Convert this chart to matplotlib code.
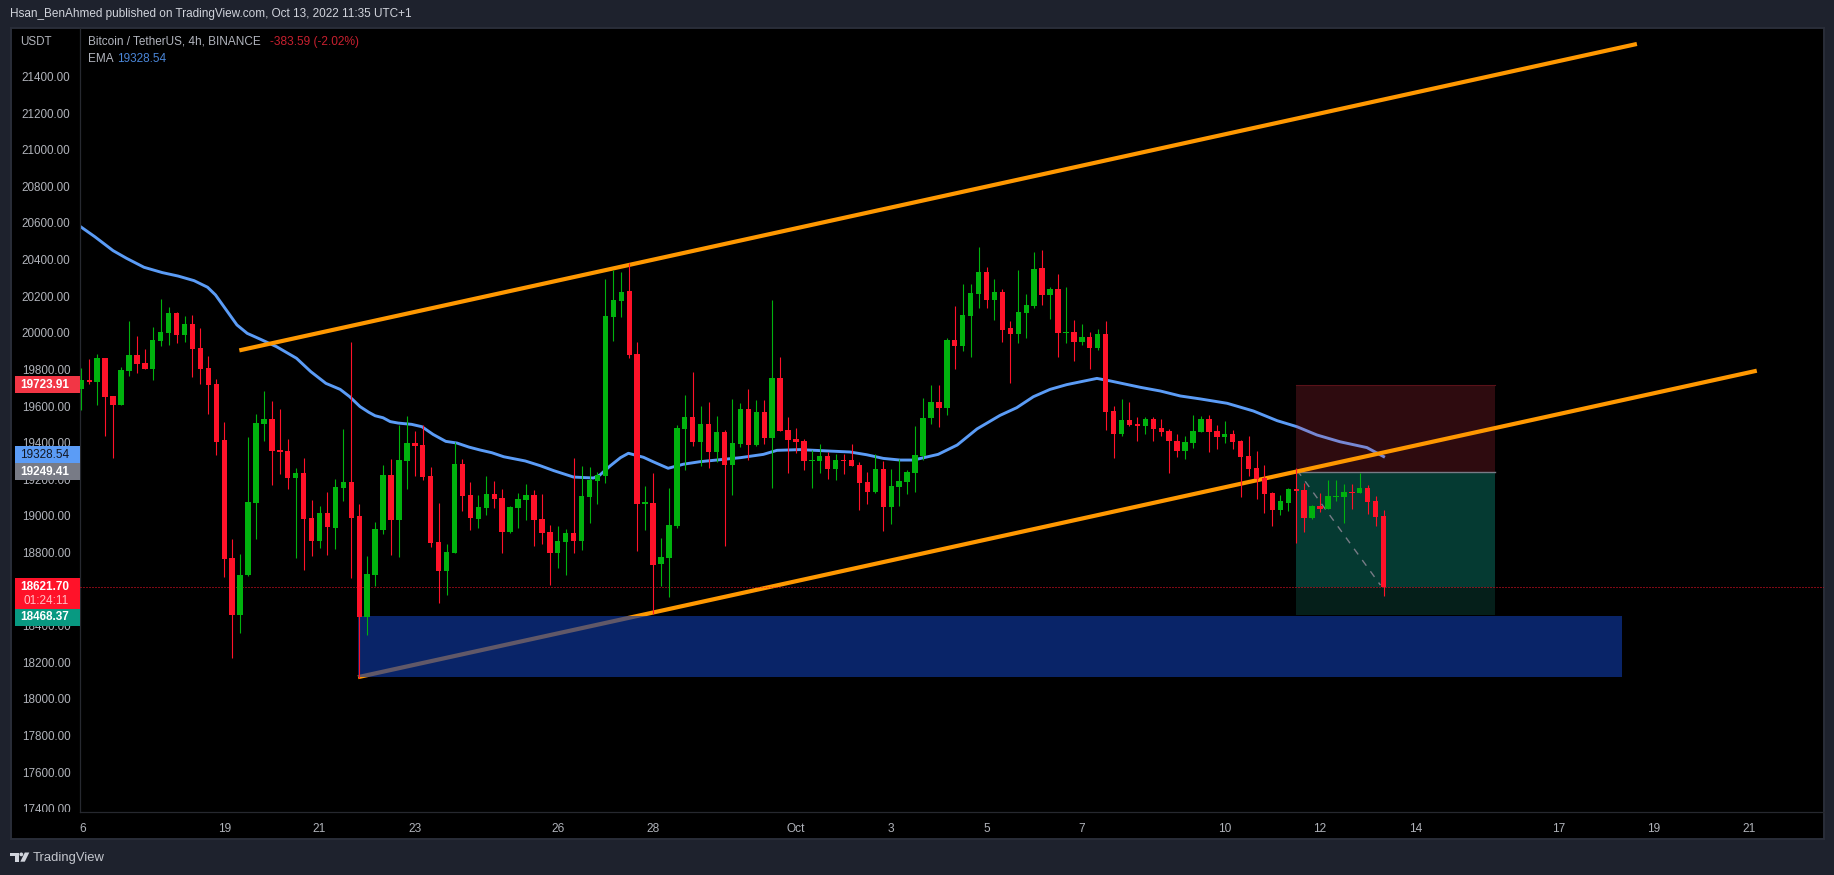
import matplotlib
matplotlib.use("Agg")
import matplotlib.pyplot as plt
from matplotlib.patches import Rectangle, Polygon, Circle

# BTC/USDT 4h candles
opens = [19701, 19750, 19739, 19870, 19663, 19614, 19799, 19887, 19843, 19810,
         19963, 20007, 20116, 19996, 20056, 19925, 19816, 19728, 19422, 18778,
         18466, 18685, 19078, 19510, 19537, 19368, 19362, 19215, 19242, 18996,
         18871, 19024, 18942, 19160, 19193, 19007, 18456, 18685, 18931, 19231,
         18985, 19308, 19406, 19395, 19226, 18865, 18707, 18805, 19291, 19122,
         18991, 19051, 19128, 19106, 18920, 19051, 19095, 19122, 18991, 18920,
         18805, 18865, 18914, 18871, 19111, 19199, 19226, 20094, 20182, 20236,
         19892, 19073, 19078, 18745, 18778, 18953, 19483, 19548, 19412, 19510,
         19357, 19466, 19286, 19401, 19592, 19395, 19576, 19433, 19761, 19477,
         19428, 19417, 19308, 19308, 19335, 19264, 19313, 19313, 19286, 19193,
         19139, 19264, 19057, 19166, 19193, 19242, 19335, 19543, 19630, 19597,
         19969, 19936, 20100, 20220, 20340, 20187, 20231, 20034, 20002, 20116,
         20155, 20362, 20215, 20247, 20007, 20013, 19958, 19985, 19925, 20002,
         19581, 19455, 19532, 19510, 19499, 19537, 19488, 19472, 19417, 19362,
         19406, 19466, 19537, 19472, 19439, 19455, 19417, 19335, 19270, 19215,
         19133, 19040, 19078, 19155, 19149, 18996, 19062, 19046, 19111, 19111,
         19139, 19133, 19160, 19089, 19007]
closes = [19750, 19739, 19870, 19657, 19614, 19805, 19887, 19838, 19810, 19969,
          20012, 20116, 19996, 20056, 19920, 19810, 19723, 19412, 18772, 18466,
          18685, 19084, 19515, 19537, 19362, 19357, 19215, 19242, 18991, 18871,
          19024, 18947, 19166, 19193, 18996, 18456, 18690, 18936, 19231, 18985,
          19313, 19406, 19390, 19220, 18860, 18707, 18811, 19291, 19117, 18996,
          19057, 19128, 19100, 18920, 19057, 19100, 19122, 18985, 18914, 18805,
          18871, 18914, 18871, 19117, 19204, 19231, 20100, 20187, 20231, 19887,
          19073, 19084, 18740, 18783, 18958, 19488, 19548, 19412, 19510, 19357,
          19466, 19286, 19406, 19592, 19395, 19576, 19433, 19761, 19472, 19423,
          19412, 19308, 19313, 19335, 19264, 19313, 19308, 19281, 19188, 19139,
          19264, 19057, 19171, 19199, 19248, 19341, 19543, 19630, 19597, 19969,
          19936, 20105, 20226, 20340, 20187, 20231, 20023, 20002, 20122, 20160,
          20357, 20215, 20247, 20007, 20013, 19958, 19985, 19925, 20002, 19576,
          19455, 19532, 19504, 19499, 19537, 19483, 19466, 19417, 19362, 19412,
          19472, 19537, 19466, 19439, 19455, 19412, 19330, 19264, 19210, 19128,
          19040, 19089, 19155, 19144, 18996, 19062, 19046, 19117, 19117, 19139,
          19133, 19160, 19084, 19002, 18620]
highs = [19816, 19865, 19892, 19870, 19663, 19821, 20072, 19991, 19920, 20040,
         20193, 20149, 20122, 20100, 20105, 20034, 19881, 19756, 19521, 18882,
         18800, 19439, 19564, 19690, 19636, 19592, 19428, 19270, 19324, 19095,
         19062, 19138, 19209, 19483, 19958, 19073, 18789, 18975, 19286, 19319,
         19504, 19554, 19472, 19504, 19275, 19078, 18854, 19412, 19319, 19193,
         19122, 19226, 19199, 19155, 19062, 19133, 19182, 19149, 19128, 18958,
         18953, 18936, 19324, 19280, 19275, 19248, 20302, 20351, 20340, 20389,
         19958, 19171, 19242, 18887, 19160, 19504, 19668, 19794, 19608, 19630,
         19554, 19477, 19647, 19625, 19701, 19641, 19641, 20187, 19876, 19548,
         19488, 19428, 19368, 19401, 19357, 19346, 19346, 19401, 19302, 19248,
         19346, 19308, 19264, 19319, 19259, 19499, 19652, 19723, 19723, 19980,
         20155, 20275, 20275, 20477, 20368, 20302, 20247, 20073, 20351, 20220,
         20450, 20460, 20258, 20329, 20258, 20078, 20056, 20013, 20029, 20073,
         19608, 19647, 19630, 19548, 19548, 19548, 19537, 19483, 19455, 19444,
         19559, 19554, 19559, 19504, 19526, 19477, 19423, 19444, 19362, 19286,
         19139, 19122, 19160, 19270, 19188, 19067, 19133, 19204, 19204, 19182,
         19182, 19242, 19177, 19117, 19040]
lows = [19586, 19728, 19614, 19444, 19324, 19614, 19772, 19788, 19810, 19750,
        19936, 19941, 19952, 19958, 19767, 19728, 19564, 19340, 18674, 18233,
        18368, 18680, 18882, 19417, 19177, 19237, 19155, 18778, 18712, 18789,
        18832, 18794, 18827, 19089, 18669, 18122, 18357, 18625, 18909, 18794,
        18783, 19155, 19226, 19204, 18838, 18532, 18576, 18805, 19035, 18931,
        18942, 19013, 19051, 18805, 18914, 18942, 18985, 18843, 18854, 18630,
        18723, 18685, 18805, 18822, 18969, 19073, 19188, 19963, 20094, 19870,
        18816, 18931, 18472, 18625, 18565, 18942, 19259, 19390, 19281, 19270,
        19302, 18844, 19122, 19384, 19313, 19390, 19401, 19160, 19472, 19242,
        19352, 19259, 19160, 19242, 19210, 19204, 19237, 19281, 19040, 19073,
        19133, 18925, 18964, 19062, 19128, 19139, 19313, 19510, 19494, 19559,
        19810, 19909, 19876, 20144, 20144, 20078, 19958, 19734, 19952, 19980,
        20144, 20160, 20084, 19876, 19952, 19854, 19942, 19810, 19914, 19477,
        19324, 19444, 19499, 19417, 19455, 19417, 19444, 19242, 19330, 19319,
        19379, 19466, 19357, 19373, 19406, 19373, 19111, 19226, 19100, 19024,
        18953, 19013, 19035, 18860, 18920, 18991, 19029, 19046, 19089, 18969,
        19046, 19133, 19018, 18953, 18570]

# EMA, sampled along the curve (bar number, price)
ema_bar = [-0.2, 1.7, 4, 5.7, 7.9, 10.2, 12.2, 14.2, 15.9, 16.9, 18.4, 19.6, 20.9, 22.6, 24.6, 27.1,
           28.9, 30.8, 32.6, 33.8, 35.1, 36.2, 37, 38, 38.9, 39.9, 41.6, 42.9, 44.3, 45.9, 47.3,
           48.8, 50.2, 51.7, 53.2, 55.9, 57.8, 59.5, 62, 64.5, 65.3, 66.6, 67.9, 68.9, 70.8, 72,
           73.9, 75.8, 77.9, 80, 83, 85.9, 87.6, 90.5, 94.3, 96.8, 98.9, 101, 103.1, 104.8, 107.9,
           110.3, 112.8, 115.7, 117.8, 119.9, 122, 124.1, 127.9, 129.6, 133.4, 135.9, 138.4, 140.9,
           144.3, 147.6, 150.6, 153.1, 155.6, 158.5, 161.9, 164]
ema_val = [20591, 20533, 20457, 20415, 20366, 20337, 20318, 20293, 20257, 20215, 20124, 20051, 20005,
           19972, 19932, 19869, 19796, 19732, 19699, 19659, 19605, 19574, 19555, 19544, 19523, 19515,
           19508, 19495, 19453, 19415, 19406, 19384, 19368, 19353, 19331, 19308, 19282, 19255, 19220,
           19215, 19231, 19281, 19326, 19350, 19328, 19304, 19268, 19290, 19304, 19313, 19326, 19344,
           19366, 19370, 19362, 19357, 19342, 19322, 19313, 19313, 19344, 19395, 19483, 19557, 19599,
           19659, 19699, 19725, 19759, 19745, 19710, 19690, 19663, 19647, 19623, 19581, 19528, 19495,
           19450, 19413, 19381, 19332]

# drawings on the chart
upper_trend_bar = [19.9, 195.9]
upper_trend_val = [19912, 21586]
lower_trend_bar = [34.85, 211]
lower_trend_val = [18127, 19801]
zone_bar = [34.85, 194]
zone_val = [18128, 18461]
pos_bar = [153, 178]
stop_price = 19723.91
entry_price = 19249.41
target_price = 18468.37
last_price = 18621.70
path_bar = [153.1, 163.6]
path_val = [19258, 18630]

price_ticks = [21400, 21200, 21000, 20800, 20600, 20400, 20200, 20000, 19800, 19600,
               19400, 19200, 19000, 18800, 18400, 18200, 18000, 17800, 17600, 17400]
date_bars = [0.2, 18, 30, 42, 60, 72, 90, 102, 114, 126, 144, 156, 168, 186, 198, 210]
date_labels = ["6", "19", "21", "23", "26", "28", "Oct", "3", "5", "7", "10", "12", "14", "17", "19", "21"]

UP = "#00b20e"
DOWN = "#ff1229"
ORANGE = "#ff9800"
EMA_BLUE = "#5b9cf6"
GREY = "#787b86"
PANEL_LINE = "#2a2e39"
AXIS_TEXT = "#b0b3ba"

plt.rcParams["font.family"] = ["Liberation Sans", "DejaVu Sans"]

W, H = 1834, 875
fig = plt.figure(figsize=(W / 100, H / 100), dpi=100, facecolor="#1e222d")

# page furniture in pixel units
bg = fig.add_axes([0, 0, 1, 1], zorder=0)
bg.set_xlim(0, W)
bg.set_ylim(H, 0)
bg.axis("off")
L, R, T, B, AX_X, AX_Y = 10.5, 1823.5, 27.5, 839, 79.5, 812.3
bg.add_patch(Rectangle((L, T), R - L, B - T, fc="black", ec=PANEL_LINE, lw=1.4))
bg.text(9.5, 14.5, "Hsan_BenAhmed published on TradingView.com, Oct 13, 2022 11:35 UTC+1",
        color="#d1d4dc", fontsize=8.5, va="center")
bg.add_patch(Polygon([(10, 852.5), (18.5, 852.5), (18.5, 861.7), (14.5, 861.7), (14.5, 856), (10, 856)],
                     fc="#d1d4dc", ec="none"))
bg.add_patch(Circle((21.3, 854.4), 1.9, fc="#d1d4dc", ec="none"))
bg.add_patch(Polygon([(24.8, 852.5), (29.3, 852.5), (24.8, 861.7), (20.3, 861.7)], fc="#d1d4dc", ec="none"))
bg.text(33, 857.5, "TradingView", color="#c4c7ce", fontsize=9.4, va="center")

pos = lambda x0, y0, x1, y1: [x0 / W, 1 - y1 / H, (x1 - x0) / W, (y1 - y0) / H]
ylim = (17388.7, 21675.9)

# chart pane
ax = fig.add_axes(pos(AX_X, T, R, AX_Y), zorder=1)
ax.set_facecolor("none")
ax.set_xlim(-0.227, 219.4)
ax.set_ylim(*ylim)
for s in ax.spines.values():
    s.set_visible(False)
for side in ["bottom", "left"]:
    ax.spines[side].set_visible(True)
    ax.spines[side].set_color("#26282f")
    ax.spines[side].set_linewidth(0.9)
ax.set_yticks([])
ax.set_xticks(date_bars, date_labels)
ax.tick_params(axis="x", length=0, pad=8, labelsize=8.6, labelcolor=AXIS_TEXT)

ax.plot(ema_bar, ema_val, color=EMA_BLUE, lw=2.1, zorder=2, solid_joinstyle="round")

# long/short position tool
ax.fill_between(pos_bar, entry_price, stop_price, color=(235 / 255, 60 / 255, 80 / 255, 0.2), lw=0, zorder=3)
ax.fill_between(pos_bar, last_price, entry_price, color=(20 / 255, 232 / 255, 200 / 255, 0.25), lw=0, zorder=3)
ax.fill_between(pos_bar, target_price, last_price, color=(20 / 255, 124 / 255, 104 / 255, 0.25), lw=0, zorder=3)
ax.plot(pos_bar, [stop_price, stop_price], color="#5a1219", lw=0.8, zorder=3)
ax.plot(pos_bar, [entry_price, entry_price], color=GREY, lw=1.0, zorder=3)
ax.plot(path_bar, path_val, color=GREY, lw=1.0, ls=(0, (5, 5)), zorder=3.5)

ax.plot(upper_trend_bar, upper_trend_val, color=ORANGE, lw=3.0, solid_capstyle="butt", zorder=4)
ax.plot(lower_trend_bar, lower_trend_val, color=ORANGE, lw=3.0, solid_capstyle="butt", zorder=4)

ax.fill_between(zone_bar, zone_val[0], zone_val[1], color=(15 / 255, 56 / 255, 159 / 255, 0.66), lw=0, zorder=5)

ax.axhline(last_price, color=DOWN, lw=0.72, ls=(0, (1, 2)), zorder=5.5)

# candles
bars = range(len(opens))
colors = [UP if c >= o else DOWN for o, c in zip(opens, closes)]
ax.vlines(bars, lows, highs, colors=colors, lw=0.8, zorder=6)
ax.bar(bars, [abs(c - o) for o, c in zip(opens, closes)], bottom=[min(o, c) for o, c in zip(opens, closes)],
       width=0.68, color=colors, lw=0, zorder=6.1)

# legend lines
lg = fig.add_axes([0, 0, 1, 1], zorder=3)
lg.set_xlim(0, W)
lg.set_ylim(H, 0)
lg.axis("off")
lg.text(87.8, 41.7, "Bitcoin / TetherUS, 4h, BINANCE", color="#b2b5be", fontsize=8.5, va="center")
lg.text(269.7, 41.7, "-383.59 (-2.02%)", color="#c8202f", fontsize=8.6, va="center")
lg.text(87.8, 58.7, "EMA", color="#b2b5be", fontsize=8.5, va="center")
lg.text(117.4, 58.7, "19328.54", color="#4a86d8", fontsize=8.5, va="center")

# price scale on the left
axp = fig.add_axes(pos(L + 1, T, AX_X, AX_Y), zorder=2)
axp.set_facecolor("none")
axp.set_xlim(L + 1, AX_X)
axp.set_ylim(*ylim)
axp.axis("off")
for p in price_ticks:
    axp.text(70.4, p, f"{p:.2f}", color=AXIS_TEXT, fontsize=8.4, ha="right", va="center", clip_on=True)
axp.text(20, 21598, "USDT", color=AXIS_TEXT, fontsize=8.4, va="center", clip_on=True)

# price tags: (centre price on the scale, text, fill, text colour)
tag_h = 93
tag_prices = [19723.91, 19343, 19250, 18453]
tag_texts = ["19723.91", "19328.54", "19249.41", "18468.37"]
tag_fills = ["#f23645", EMA_BLUE, GREY, "#089981"]
tag_inks = ["white", "#131722", "white", "white"]
for p, s, fc, ink in zip(tag_prices, tag_texts, tag_fills, tag_inks):
    axp.add_patch(Rectangle((15, p - tag_h / 2), AX_X - 15, tag_h, fc=fc, ec="none", zorder=5))
    axp.text(69, p, s, color=ink, fontsize=8.5, fontweight="bold" if ink == "white" else "normal",
             ha="right", va="center", zorder=6)
# last price tag with countdown
axp.add_patch(Rectangle((15, last_price - 125), AX_X - 15, 170, fc=DOWN, ec="none", zorder=5))
axp.text(69, last_price, "18621.70", color="white", fontsize=8.5, fontweight="bold", ha="right", va="center", zorder=6)
axp.text(69, last_price - 78, "01:24:11", color="#ffc0c6", fontsize=8.5, ha="right", va="center", zorder=6)

fig.savefig("out.png", dpi=100, facecolor=fig.get_facecolor())
